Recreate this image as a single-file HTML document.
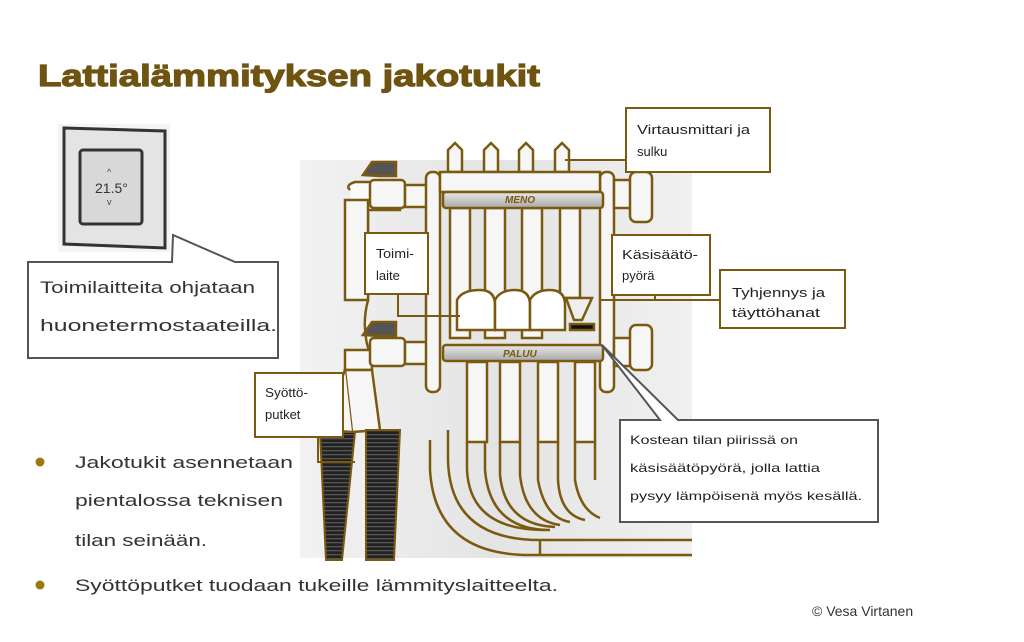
<!DOCTYPE html>
<html><head><meta charset="utf-8"><style>
html,body{margin:0;padding:0;background:#fff}
svg{display:block}
text{font-family:"Liberation Sans","DejaVu Sans",sans-serif}
</style></head><body>
<svg width="1024" height="642" viewBox="0 0 1024 642" xmlns="http://www.w3.org/2000/svg">
<defs>
<linearGradient id="bg" x1="0" x2="1"><stop offset="0" stop-color="#f2f2f2"/><stop offset="0.5" stop-color="#e4e4e4"/><stop offset="1" stop-color="#f0f0f0"/></linearGradient>
<linearGradient id="bar" x1="0" y1="0" x2="0" y2="1"><stop offset="0" stop-color="#e8e8e8"/><stop offset="1" stop-color="#a8a8a8"/></linearGradient>
<pattern id="hose" width="10" height="4" patternUnits="userSpaceOnUse"><rect width="10" height="4" fill="#222"/><rect y="2" width="10" height="1.3" fill="#555"/></pattern>
</defs>
<rect width="1024" height="642" fill="#fff"/>
<text x="38" y="86" font-size="31" font-weight="900" fill="#6e5410" textLength="502" lengthAdjust="spacingAndGlyphs" stroke="#6e5410" stroke-width="1.2">Lattialämmityksen jakotukit</text>

<rect x="300" y="160" width="392" height="398" fill="url(#bg)"/>

<!-- thermostat -->
<rect x="58" y="124" width="112" height="128" fill="#f4f4f4"/>
<path d="M64 128 L165 131 L165 248 L64 244 Z" fill="#e4e4e4" stroke="#333" stroke-width="3"/>
<rect x="80" y="150" width="62" height="74" rx="3" fill="#d8d8d8" stroke="#333" stroke-width="3"/>
<text x="95" y="193" font-size="14" fill="#333">21.5°</text>
<text x="107" y="175" font-size="9" fill="#444">^</text>
<text x="107" y="205" font-size="9" fill="#444">v</text>

<path d="M28 262 H172 L173 235 L235 262 H278 V358 H28 Z" fill="#fff" stroke="#555" stroke-width="2"/>
<text x="40" y="293" font-size="17" fill="#333" textLength="215" lengthAdjust="spacingAndGlyphs">Toimilaitteita ohjataan</text>
<text x="40" y="331" font-size="17" fill="#333" textLength="237" lengthAdjust="spacingAndGlyphs">huonetermostaateilla.</text>

<g stroke="#7a5a10" stroke-width="2.5" fill="#f6f6f6">
<path d="M350 190 Q345 185 355 182 H400 V210 H368 V300 Q360 330 372 360" fill="#fafafa"/>
<path d="M345 200 H368 V300 L345 300 Z"/>
<path d="M345 350 H372 V370 H345 Z"/>
<path d="M345 370 H372 L380 430 L352 432 Z"/>
<path d="M345 370 L322 430 L352 432"/>
<rect x="370" y="180" width="35" height="28" rx="4"/>
<rect x="370" y="338" width="35" height="28" rx="4"/>
<rect x="405" y="185" width="22" height="22"/>
<rect x="405" y="342" width="22" height="22"/>
<path d="M363 175 L372 162 H396 V176 H380 Z" fill="#555"/>
<path d="M363 335 L372 322 H396 V336 H380 Z" fill="#555"/>
<rect x="426" y="172" width="14" height="220" rx="6"/>
<rect x="600" y="172" width="14" height="220" rx="6"/>
<path d="M448 150 L455 143 L462 150 V172 H448 Z"/>
<path d="M484 150 L491 143 L498 150 V172 H484 Z"/>
<path d="M519 150 L526 143 L533 150 V172 H519 Z"/>
<path d="M555 150 L562 143 L569 150 V172 H555 Z"/>
<rect x="440" y="172" width="160" height="20"/>
<rect x="450" y="208" width="20" height="130"/>
<rect x="485" y="208" width="20" height="130"/>
<rect x="522" y="208" width="20" height="130"/>
<rect x="560" y="208" width="20" height="90"/>
<path d="M457 300 Q462 290 480 290 Q495 290 495 305 V330 H457 Z" fill="#fff"/>
<path d="M495 300 Q500 290 515 290 Q530 290 530 305 V330 H495 Z" fill="#fff"/>
<path d="M530 300 Q535 290 550 290 Q565 290 565 305 V330 H530 Z" fill="#fff"/>
<path d="M566 298 H592 L582 320 H574 Z" fill="#eee"/>
<rect x="570" y="324" width="24" height="6" fill="#111"/>
<rect x="443" y="192" width="160" height="16" rx="3" fill="url(#bar)"/>
<rect x="443" y="345" width="160" height="16" rx="3" fill="url(#bar)"/>
<rect x="614" y="180" width="18" height="28"/>
<rect x="630" y="172" width="22" height="50" rx="6"/>
<rect x="614" y="338" width="18" height="28"/>
<rect x="630" y="325" width="22" height="45" rx="6"/>
<rect x="467" y="362" width="20" height="80"/>
<rect x="500" y="362" width="20" height="80"/>
<rect x="538" y="362" width="20" height="80"/>
<rect x="575" y="362" width="20" height="80"/>
<path d="M448 430 V460 Q450 540 540 540 H692" fill="none"/>
<path d="M467 442 V470 Q470 530 545 530" fill="none"/>
<path d="M485 442 V470 Q490 530 550 530" fill="none"/>
<path d="M500 442 V475 Q505 525 555 527" fill="none"/>
<path d="M520 442 V475 Q525 520 560 525" fill="none"/>
<path d="M538 442 V480 Q545 518 570 522" fill="none"/>
<path d="M558 442 V480 Q560 515 585 520" fill="none"/>
<path d="M575 442 V480 Q580 510 600 518" fill="none"/>
<path d="M595 442 V480" fill="none"/>
<path d="M430 440 V470 Q435 555 530 555 H692" fill="none"/>
<path d="M540 540 V556" fill="none"/>
</g>
<text x="505" y="203" font-size="10" font-style="italic" font-weight="bold" fill="#7a5a10">MENO</text>
<text x="503" y="357" font-size="10" font-style="italic" font-weight="bold" fill="#7a5a10">PALUU</text>

<path d="M320 432 L355 432 L342 560 H326 Z" fill="url(#hose)" stroke="#7a5a10" stroke-width="2"/>
<path d="M366 430 L400 430 L394 560 H366 Z" fill="url(#hose)" stroke="#7a5a10" stroke-width="2"/>

<g stroke="#7a5a10" stroke-width="2" fill="none">
<path d="M565 160 H626"/>
<path d="M398 295 V316 H460"/>
<path d="M655 295 V300 H600"/>
<path d="M720 300 H655"/>
<path d="M318 437 V462 H355"/>
</g>
<g fill="#fff" stroke="#7a5a10" stroke-width="2">
<rect x="626" y="108" width="144" height="64"/>
<rect x="365" y="233" width="63" height="61"/>
<rect x="612" y="235" width="98" height="60"/>
<rect x="720" y="270" width="125" height="58"/>
<rect x="255" y="373" width="88" height="64"/>
</g>
<text x="637" y="134" font-size="13" fill="#222" textLength="113" lengthAdjust="spacingAndGlyphs">Virtausmittari ja</text>
<text x="637" y="156" font-size="13" fill="#222">sulku</text>
<text x="376" y="258" font-size="13" fill="#222" textLength="38" lengthAdjust="spacingAndGlyphs">Toimi-</text>
<text x="376" y="280" font-size="13" fill="#222">laite</text>
<text x="622" y="259" font-size="13" fill="#222" textLength="76" lengthAdjust="spacingAndGlyphs">Käsisäätö-</text>
<text x="622" y="280" font-size="13" fill="#222">pyörä</text>
<text x="732" y="297" font-size="13" fill="#222" textLength="93" lengthAdjust="spacingAndGlyphs">Tyhjennys ja</text>
<text x="732" y="317" font-size="13" fill="#222" textLength="88" lengthAdjust="spacingAndGlyphs">täyttöhanat</text>
<text x="265" y="397" font-size="13" fill="#222" textLength="43" lengthAdjust="spacingAndGlyphs">Syöttö-</text>
<text x="265" y="419" font-size="13" fill="#222">putket</text>

<path d="M620 420 H660 L602 345 L678 420 H878 V522 H620 Z" fill="#fff" stroke="#555" stroke-width="2"/>
<text x="630" y="444" font-size="12" fill="#222" textLength="168" lengthAdjust="spacingAndGlyphs">Kostean tilan piirissä on</text>
<text x="630" y="472" font-size="12" fill="#222" textLength="190" lengthAdjust="spacingAndGlyphs">käsisäätöpyörä, jolla lattia</text>
<text x="630" y="500" font-size="12" fill="#222" textLength="232" lengthAdjust="spacingAndGlyphs">pysyy lämpöisenä myös kesällä.</text>

<circle cx="40" cy="462" r="4.5" fill="#9a7a10"/>
<text x="75" y="468" font-size="17" fill="#333" textLength="218" lengthAdjust="spacingAndGlyphs">Jakotukit asennetaan</text>
<text x="75" y="506" font-size="17" fill="#333" textLength="208" lengthAdjust="spacingAndGlyphs">pientalossa teknisen</text>
<text x="75" y="546" font-size="17" fill="#333" textLength="132" lengthAdjust="spacingAndGlyphs">tilan seinään.</text>
<circle cx="40" cy="585" r="4.5" fill="#9a7a10"/>
<text x="75" y="591" font-size="17" fill="#333" textLength="483" lengthAdjust="spacingAndGlyphs">Syöttöputket tuodaan tukeille lämmityslaitteelta.</text>
<text x="812" y="616" font-size="14" fill="#333">© Vesa Virtanen</text>
</svg>
</body></html>
